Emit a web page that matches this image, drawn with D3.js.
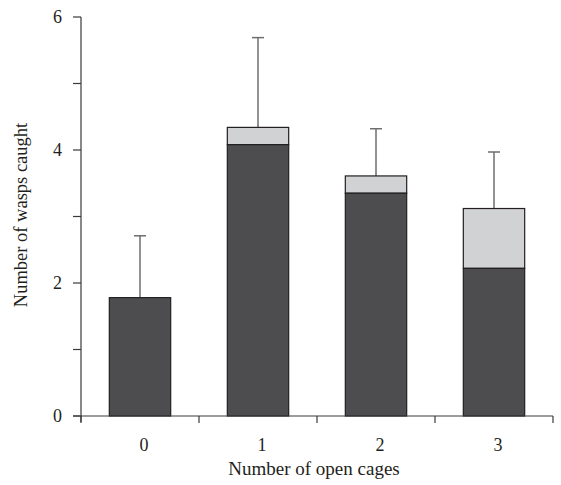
<!DOCTYPE html>
<html>
<head>
<meta charset="utf-8">
<script src="https://cdn.jsdelivr.net/npm/d3@7"></script>
<style>
  body { margin: 0; background: #fff; }
  text { font-family: "Liberation Serif", "DejaVu Serif", serif; fill: #231f20; }
</style>
</head>
<body>
<div id="chart"></div>
<script>
// data
const cages = ["0", "1", "2", "3"];
const darkPart = [1.78, 4.08, 3.35, 2.22];
const totals = [1.78, 4.34, 3.61, 3.12];
const errTop = [2.71, 5.69, 4.32, 3.97];
const yTicks = [0, 2, 4, 6];
const yMinor = [1, 3, 5];

const width = 561;
const height = 485;
const plotLeft = 81, plotRight = 553, plotTop = 17, plotBottom = 416;

const darkFill = "#4d4d4f";
const lightFill = "#d1d2d3";
const ink = "#231f20";

const svg = d3.select("#chart")
  .append("svg")
  .attr("width", width)
  .attr("height", height);

const x = d3.scaleBand()
  .domain(cages)
  .range([plotLeft, plotRight])
  .paddingInner(0.48)
  .paddingOuter(0.24);

const y = d3.scaleLinear()
  .domain([0, 6])
  .range([plotBottom, plotTop]);

const rows = cages.map((c, i) => ({
  cage: c,
  dark: darkPart[i],
  total: totals[i],
  err: errTop[i]
}));

// error bars (drawn first so the bar outline sits on top)
const eb = svg.append("g")
  .attr("stroke", "#6d6e70")
  .attr("stroke-width", 1.5);

eb.selectAll(".err")
  .data(rows)
  .enter()
  .append("line")
  .attr("x1", d => x(d.cage) + x.bandwidth() / 2)
  .attr("x2", d => x(d.cage) + x.bandwidth() / 2)
  .attr("y1", d => y(d.total))
  .attr("y2", d => y(d.err));

eb.selectAll(".cap")
  .data(rows)
  .enter()
  .append("line")
  .attr("x1", d => x(d.cage) + x.bandwidth() / 2 - 6)
  .attr("x2", d => x(d.cage) + x.bandwidth() / 2 + 6)
  .attr("y1", d => y(d.err))
  .attr("y2", d => y(d.err));

// light top segment
svg.selectAll(".light")
  .data(rows.filter(d => d.total > d.dark))
  .enter()
  .append("rect")
  .attr("x", d => x(d.cage))
  .attr("y", d => y(d.total))
  .attr("width", x.bandwidth())
  .attr("height", d => y(d.dark) - y(d.total))
  .attr("fill", lightFill)
  .attr("stroke", ink)
  .attr("stroke-width", 1.2);

// dark bottom segment
svg.selectAll(".dark")
  .data(rows)
  .enter()
  .append("rect")
  .attr("x", d => x(d.cage))
  .attr("y", d => y(d.dark))
  .attr("width", x.bandwidth())
  .attr("height", d => y(0) - y(d.dark))
  .attr("fill", darkFill)
  .attr("stroke", ink)
  .attr("stroke-width", 1.2);

// y axis
const yAxis = svg.append("g").attr("stroke", "#3a3a3c").attr("stroke-width", 1.2);
yAxis.append("line")
  .attr("x1", plotLeft).attr("x2", plotLeft)
  .attr("y1", y(6)).attr("y2", plotBottom + 6);
yAxis.selectAll(".ytick")
  .data(yTicks.concat(yMinor))
  .enter()
  .append("line")
  .attr("x1", plotLeft - 8).attr("x2", plotLeft)
  .attr("y1", d => y(d)).attr("y2", d => y(d));

svg.selectAll(".ylab")
  .data(yTicks)
  .enter()
  .append("text")
  .attr("x", plotLeft - 19)
  .attr("y", d => y(d))
  .attr("dy", "0.35em")
  .attr("text-anchor", "end")
  .style("font-size", "18px")
  .text(d => d);

// x axis
const xAxis = svg.append("g").attr("stroke", "#3a3a3c").attr("stroke-width", 1.2);
xAxis.append("line")
  .attr("x1", plotLeft - 8).attr("x2", plotRight)
  .attr("y1", plotBottom).attr("y2", plotBottom);
const bounds = cages.map(c => x(c) - x.step() * x.paddingInner() / 2);
bounds.push(plotRight);
bounds[0] = plotLeft;
xAxis.selectAll(".xtick")
  .data(bounds)
  .enter()
  .append("line")
  .attr("x1", d => d).attr("x2", d => d)
  .attr("y1", plotBottom).attr("y2", plotBottom + 7);

svg.selectAll(".xlab")
  .data(cages)
  .enter()
  .append("text")
  .attr("x", d => x(d) + x.bandwidth() / 2 + 4)
  .attr("y", 451)
  .attr("text-anchor", "middle")
  .style("font-size", "18px")
  .text(d => d);

svg.append("text")
  .attr("x", 314)
  .attr("y", 475)
  .attr("text-anchor", "middle")
  .style("font-size", "19px")
  .text("Number of open cages");

svg.append("text")
  .attr("transform", "translate(27,215) rotate(-90)")
  .attr("text-anchor", "middle")
  .style("font-size", "18.5px")
  .text("Number of wasps caught");
</script>
</body>
</html>
